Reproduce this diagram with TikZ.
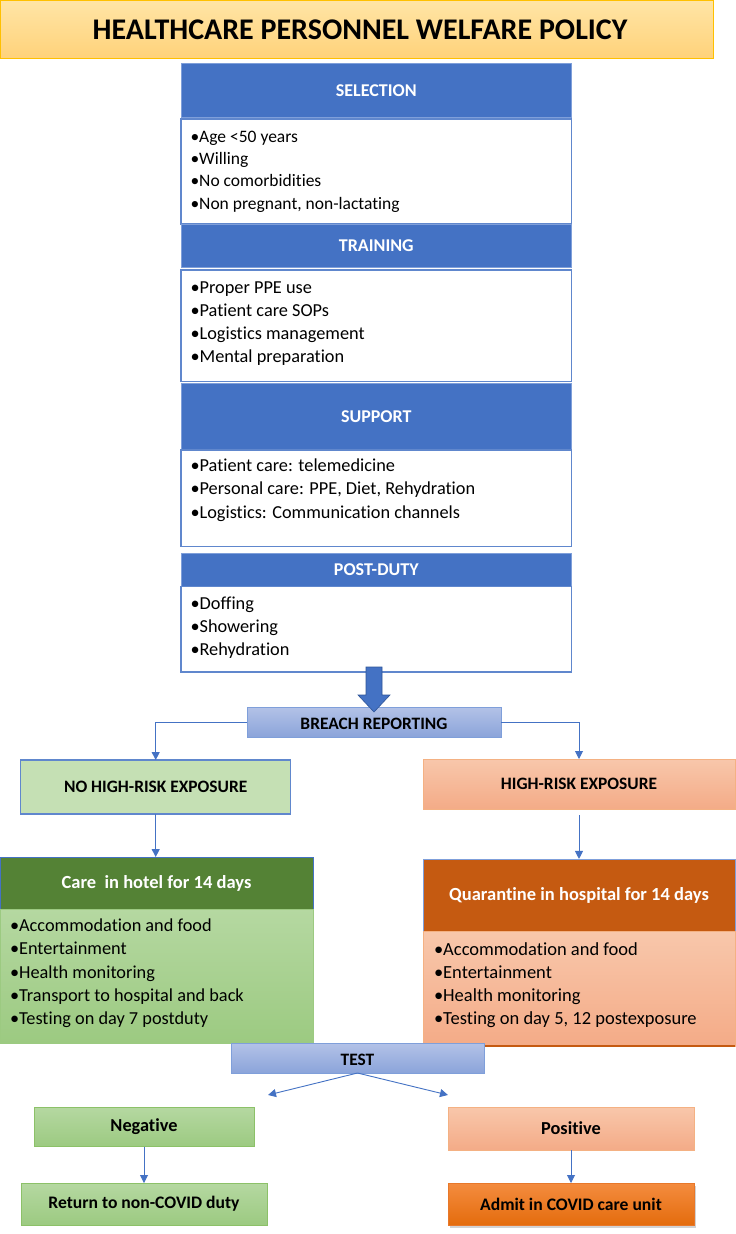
\documentclass[tikz,border=0pt]{standalone}
\usepackage{fontspec}
\setmainfont{Carlito}[Ligatures={NoCommon}]
\usetikzlibrary{arrows.meta,shadings,shadows}
\definecolor{hblue}{HTML}{4472C4}
\definecolor{lblue}{HTML}{7F9FDA}
\definecolor{dgreen}{HTML}{548235}
\definecolor{brown}{HTML}{C55A11}
\definecolor{salm}{HTML}{F4B183}
\definecolor{lgreen}{HTML}{C5E0B4}
\definecolor{barTop}{HTML}{B3C2E7}
\definecolor{barBot}{HTML}{8BA4DA}
\definecolor{titleTop}{HTML}{FFE5A6}
\definecolor{titleBot}{HTML}{FFD27A}
\definecolor{titleLine}{HTML}{FFC000}
\definecolor{arrowLine}{HTML}{2F5597}
\definecolor{salmTop}{HTML}{F8C7AB}
\definecolor{salmBot}{HTML}{F4AB87}
\definecolor{grTop}{HTML}{B5D8A1}
\definecolor{grBot}{HTML}{9CCA81}
\definecolor{grLine}{HTML}{8CC168}
\definecolor{orTop}{HTML}{F48C3F}
\definecolor{orBot}{HTML}{E46C0D}
\definecolor{orLine}{HTML}{E8782A}
\begin{document}
\begin{tikzpicture}[x=1pt,y=-1pt,
  every node/.style={inner sep=0pt, outer sep=0pt},
  box/.style={rectangle, minimum width=#1},
  fs/.style={font=\fontsize{#1}{20}\selectfont},
  fsb/.style={font=\fontsize{#1}{20}\selectfont\bfseries},
  hdr/.style={box=390.7, fill=hblue, draw=lblue, line width=0.6pt, text=white, fsb=18},
  bodybox/.style={box=390.7, fill=white, draw=hblue!85, line width=1.1pt},
  bul/.style={anchor=base west, fs=18.3, text=black},
  lbl/.style={fsb=17.4, text=black},
  bluebar/.style={top color=barTop, bottom color=barBot, draw=lblue, line width=0.8pt},
  salmbox/.style={top color=salmTop, bottom color=salmBot, draw=salm, line width=0.8pt},
  greenbox/.style={top color=grTop, bottom color=grBot, draw=grLine, line width=0.8pt},
  conn/.style={draw=hblue, line width=0.9pt, -{Triangle[length=8pt,width=8pt]}},
]
\useasboundingbox (0,0) rectangle (736,1234);
\fill[white] (0,0) rectangle (736,1234);

% title
\node[box=713, minimum height=58, top color=titleTop, bottom color=titleBot, draw=titleLine, line width=0.8pt] (title) at (356.5,29) {};
\node[font=\fontsize{30}{33}\selectfont\bfseries] (titletext) at (360,30) {HEALTHCARE PERSONNEL WELFARE POLICY};

% selection
\node[hdr, minimum height=53.7] (selh) at (376.3,90.2) {SELECTION};
\node[bodybox, minimum height=105] (selb) at (376.3,171.5) {};
\foreach \t [count=\i from 0] in {Age <50 years, Willing, No comorbidities, {Non pregnant, non-lactating}}
  \node[bul, fs=17.5] (sel\i) at (190.5,142+22.4*\i) {•\t};

% training
\node[hdr, minimum height=43] (trh) at (376.3,245.5) {TRAINING};
\node[bodybox, minimum height=111.7] (trb) at (376.3,325.8) {};
\foreach \t [count=\i from 0] in {Proper PPE use, Patient care SOPs, Logistics management, Mental preparation}
  \node[bul] (tr\i) at (190.5,293+23.3*\i) {•\t};

% support
\node[hdr, minimum height=67] (suh) at (376.3,416.5) {SUPPORT};
\node[bodybox, minimum height=96.7] (sub) at (376.3,498.3) {};
\foreach \t [count=\i from 0] in {Patient care: telemedicine, {Personal care: PPE, Diet, Rehydration}, Logistics: Communication channels}
  \node[bul] (su\i) at (190.5,471.7+23.2*\i) {•\t};

% post-duty
\node[hdr, minimum height=33.7] (poh) at (376.3,569.8) {POST-DUTY};
\node[bodybox, minimum height=85.3] (pob) at (376.3,629.3) {};
\foreach \t [count=\i from 0] in {Doffing, Showering, Rehydration}
  \node[bul] (po\i) at (190.5,609+23.4*\i) {•\t};

% breach
\node[box=254, minimum height=30, bluebar] (breach) at (374,722) {};
\node[lbl] (breacht) at (374,723.5) {BREACH REPORTING};

% big arrow
\draw[fill=hblue, draw=arrowLine, line width=0.6pt] (366,667) -- (382,667) -- (382,695) -- (390,695) -- (374,712) -- (358,695) -- (366,695) -- cycle;

% exposure boxes
\node[box=270, minimum height=54, fill=lgreen, draw=hblue!85, line width=1.1pt, lbl] (nohigh) at (155.7,787) {NO HIGH-RISK EXPOSURE};
\node[box=312, minimum height=50, salmbox, lbl] (high) at (579,784) {HIGH-RISK EXPOSURE};

\draw[conn] (breach.west) -| (nohigh.north);
\draw[conn] (breach.east) -| (high.north);

% care in hotel
\node[box=313, minimum height=52, fill=dgreen, draw=hblue, line width=0.8pt, text=white, fsb=18.5] (careh) at (156.5,883) {Care\ \ in hotel for 14 days};
\node[box=313, minimum height=134, top color=grTop, bottom color=grBot, draw=grBot, line width=0.6pt] (careb) at (156.5,976) {};
\foreach \t [count=\i from 0] in {Accommodation and food, Entertainment, Health monitoring, Transport to hospital and back, Testing on day 7 postduty}
  \node[bul] (care\i) at (10,931.5+23.3*\i) {•\t};

% quarantine
\node[box=312, minimum height=72.7, fill=brown, draw=lblue, line width=0.8pt, text=white, fsb=18.5] (quarh) at (579,895.3) {Quarantine in hospital for 14 days};
\node[box=312, minimum height=114.3, top color=salmTop, bottom color=salmBot, draw=salm, line width=0.6pt] (quarb) at (579,988.8) {};
\draw[draw=brown, line width=1.2pt] (quarb.south west) -- (quarb.south east);
\foreach \t [count=\i from 0] in {Accommodation and food, Entertainment, Health monitoring, {Testing on day 5, 12 postexposure}}
  \node[bul, fs=18.5] (quar\i) at (434,955+23.3*\i) {•\t};

\draw[conn] (nohigh.south) -- (nohigh.south |- careh.north);
\draw[conn, shorten <=6pt] (high.south) -- (high.south |- quarh.north);

% test
\node[box=253, minimum height=30, bluebar] (test) at (357.5,1058) {};
\node[lbl] (testt) at (357.5,1059.5) {TEST};
\coordinate (negtip) at (268,1095);
\coordinate (postip) at (448,1095);
\draw[conn] (test.south) -- (negtip);
\draw[conn] (test.south) -- (postip);

% results
\node[box=220, minimum height=39.5, greenbox, lbl, fsb=18.3] (neg) at (144,1126.8) {Negative};
\node[box=246, minimum height=43, salmbox, lbl, fsb=18.3] (pos) at (571,1128.5) {Positive};
\node[box=246, minimum height=42, greenbox, lbl, fsb=17.6] (ret) at (144,1204) {Return to non-COVID duty};
\node[box=246, minimum height=42, top color=orTop, bottom color=orBot, draw=orLine, line width=0.6pt, drop shadow={shadow xshift=1.5pt, shadow yshift=-2.5pt, opacity=0.35}, lbl, fsb=17.6] (admit) at (571,1204) {Admit in COVID care unit};

\draw[conn] (neg.south) -- (ret.north);
\draw[conn] (pos.south) -- (admit.north);
\end{tikzpicture}
\end{document}
